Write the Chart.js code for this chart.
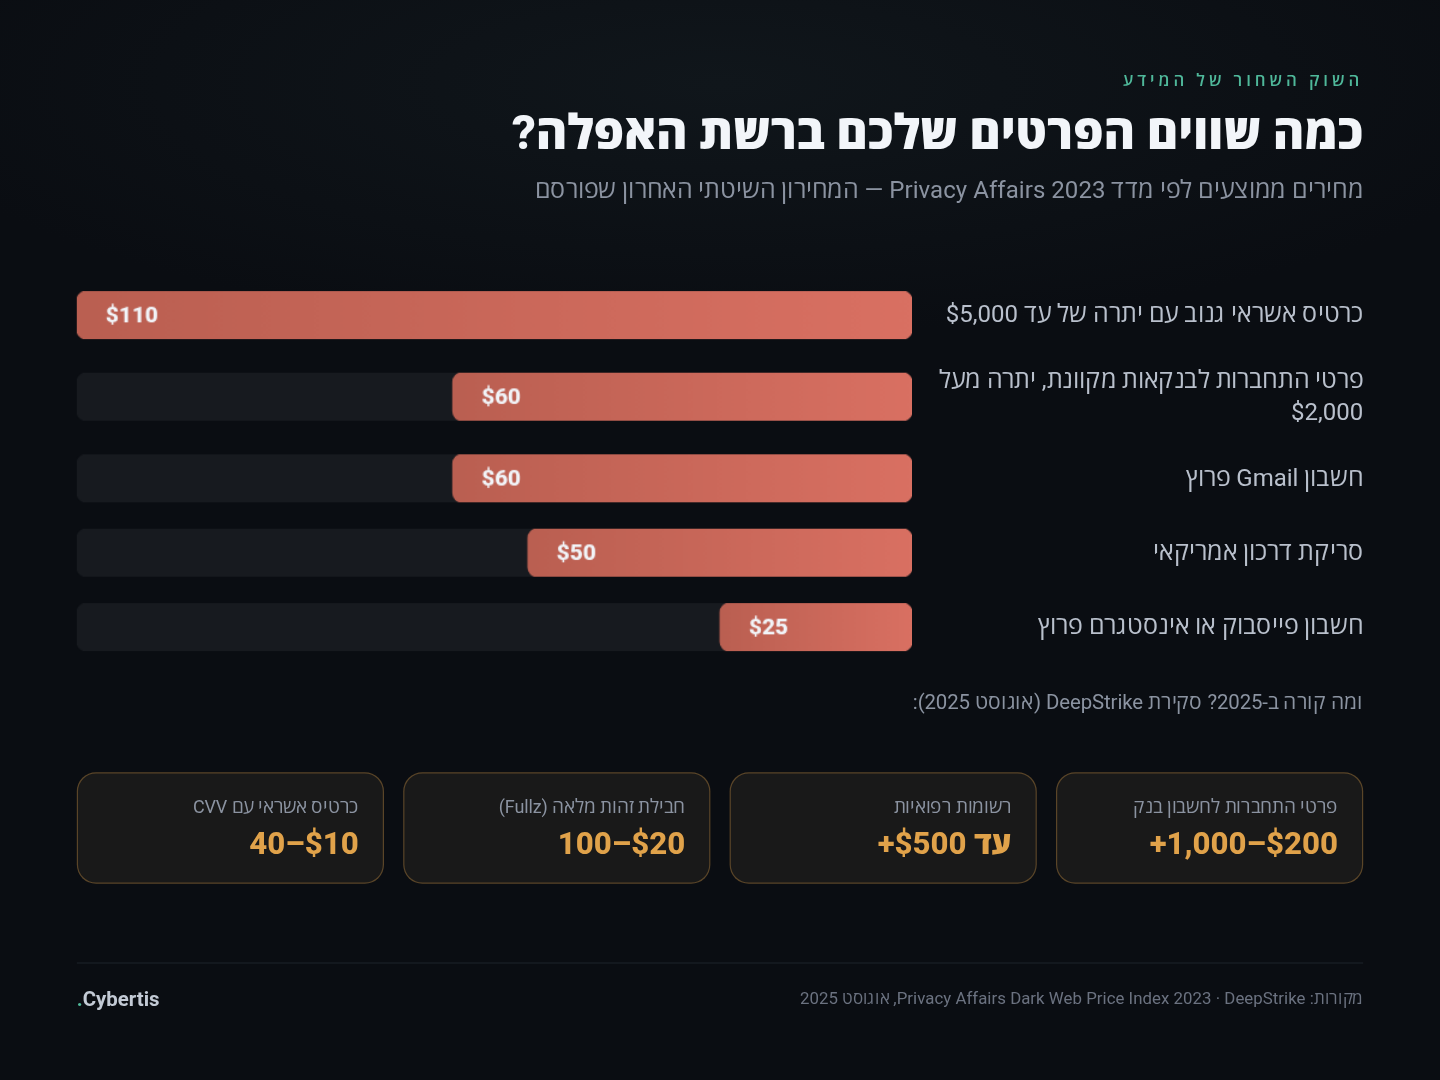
<!DOCTYPE html>
<html lang="he" dir="rtl">
<head>
<meta charset="utf-8">
<title>כמה שווים הפרטים שלכם ברשת האפלה?</title>
<script src="https://cdn.jsdelivr.net/npm/chart.js@4"></script>
<style>
  @font-face { font-family: HebrewText; src: local("Open Sans Regular"), local("OpenSans-Regular"), local("Open Sans"); unicode-range: U+0590-05FF; size-adjust: 103.5%; }
  * { box-sizing: border-box; margin: 0; padding: 0; }
  html, body { width: 1440px; height: 1080px; overflow: hidden; background: #0a0d12; }
  /* page is laid out at 1200x900 and scaled up, like the source */
  .page {
    position: absolute; top: 0; left: 0; width: 1200px; height: 900px;
    transform: scale(1.2); transform-origin: top left;
    filter: blur(.3px);
    background: radial-gradient(ellipse 700px 210px at 50% 70px, #10161b 0%, #0a0d12 100%);
    font-family: Roboto, "Open Sans", sans-serif;
  }
  .subtitle, .row-label, .note, .card-label, .source { font-family: HebrewText, Roboto, "Open Sans", sans-serif; }
  .eyebrow { position: absolute; top: 57.5px; right: 64px; font-size: 14px; line-height: 18px; font-weight: 600; letter-spacing: 3.3px; color: #4fb89a; }
  h1 { position: absolute; top: 84.5px; right: 64px; font-size: 40px; line-height: 52px; font-weight: 800; letter-spacing: -.15px; color: #f2f5f9; white-space: nowrap; }
  .subtitle { position: absolute; top: 144.5px; right: 64px; font-size: 20px; line-height: 26px; letter-spacing: .04px; color: #8b93a1; white-space: nowrap; }
  .rows { position: absolute; top: 243px; left: 64px; width: 1072px; display: flex; flex-direction: column; gap: 22px; transform: translateY(-.4px); }
  .row { display: flex; align-items: center; gap: 28px; }
  .row-label { flex: 1; margin-left: -8px; font-size: 20px; line-height: 26px; color: #b9c0cc; position: relative; top: -.8px; }
  .row canvas { width: 696px; height: 40px; display: block; flex: none; }
  .note { position: absolute; top: 574px; right: 64px; font-size: 17px; line-height: 22px; letter-spacing: -.1px; color: #8b93a1; }
  .cards { position: absolute; top: 644px; left: 64px; width: 1072px; height: 92.5px; display: flex; gap: 16px; transform: translateY(-.5px); }
  .card { flex: 1; background: #191919; border: 1px solid rgba(224, 162, 74, .33); border-radius: 16px; padding: 18px 20px; }
  .card-label { font-size: 15px; line-height: 20px; letter-spacing: -.1px; color: #8b93a1; }
  .card-value { font-size: 26px; line-height: 34px; font-weight: 800; color: #e0a24a; margin-top: 3px; }
  .footer { position: absolute; top: 801.5px; left: 64px; width: 1072px; border-top: 1px solid #1c2127; display: flex; justify-content: space-between; align-items: center; padding-top: 19px; }
  .source { font-size: 14px; line-height: 20px; letter-spacing: .03px; color: #6b7280; }
  .brand { font-size: 17px; line-height: 20px; font-weight: 700; color: #c3cad5; }
  .brand span { color: #4fb89a; }
</style>
</head>
<body>
<div class="page">
<div class="eyebrow">השוק השחור של המידע</div>
<h1>כמה שווים הפרטים שלכם ברשת האפלה?</h1>
<div class="subtitle">מחירים ממוצעים לפי מדד Privacy Affairs 2023 — המחירון השיטתי האחרון שפורסם</div>
<div class="rows" id="rows"></div>
<div class="note">ומה קורה ב-2025? סקירת DeepStrike (אוגוסט 2025):</div>
<div class="cards" id="cards"></div>
<div class="footer">
  <div class="source">מקורות: DeepStrike &rlm;·&rlm; Privacy Affairs Dark Web Price Index 2023, אוגוסט 2025</div>
  <div class="brand">Cybertis<span>.</span></div>
</div>
</div>
<script>
// --- DATA ---
const categories = [
  'כרטיס אשראי גנוב עם יתרה של עד $5,000',
  'פרטי התחברות לבנקאות מקוונת, יתרה מעל $2,000',
  'חשבון Gmail פרוץ',
  'סריקת דרכון אמריקאי',
  'חשבון פייסבוק או אינסטגרם פרוץ',
];
// bar length as % of the track, the way the picture draws it
const barLengths = [100, 55, 55, 46, 23];
const priceLabels = ['$110', '$60', '$60', '$50', '$25'];
const cardLabels = ['פרטי התחברות לחשבון בנק', 'רשומות רפואיות', 'חבילת זהות מלאה (Fullz)', 'כרטיס אשראי עם CVV'];
const cardValues = ['$200–1,000+', 'עד $500+', '$20–100', '$10–40'];

// --- CARDS ---
const cardsEl = document.getElementById('cards');
cardLabels.forEach((label, i) => {
  const card = document.createElement('div');
  card.className = 'card';
  card.innerHTML = `<div class="card-label">${label}</div><div class="card-value">${cardValues[i]}</div>`;
  cardsEl.appendChild(card);
});

// Price text sits inside the left end of the bar
const priceLabelPlugin = {
  id: 'priceLabel',
  afterDatasetsDraw(chart) {
    const bar = chart.getDatasetMeta(0).data[0];
    const { ctx } = chart;
    ctx.save();
    ctx.direction = 'ltr';
    ctx.font = '800 19px Roboto';
    ctx.fillStyle = '#f2f5f9';
    ctx.textAlign = 'left';
    ctx.textBaseline = 'middle';
    ctx.fillText(chart.data.labels[0], bar.x + 24, bar.y + 1);
    ctx.restore();
  },
};

function barGradient(context) {
  const { chart } = context;
  if (!chart.chartArea) return '#d97062';
  const xScale = chart.scales.x;
  const grad = chart.ctx.createLinearGradient(xScale.getPixelForValue(context.raw), 0, xScale.getPixelForValue(0), 0);
  grad.addColorStop(0, '#ba5f51');
  grad.addColorStop(1, '#d97062');
  return grad;
}

// --- ROWS ---
// one small chart per row: the two-line label makes the rows uneven in height
const rowsEl = document.getElementById('rows');
categories.forEach((category, i) => {
  const row = document.createElement('div');
  row.className = 'row';
  const label = document.createElement('div');
  label.className = 'row-label';
  label.textContent = category;
  const canvas = document.createElement('canvas');
  canvas.width = 696;
  canvas.height = 40;
  row.append(label, canvas);
  rowsEl.appendChild(row);

  new Chart(canvas, {
    type: 'bar',
    data: {
      labels: [priceLabels[i]],
      datasets: [
        { data: [barLengths[i]], backgroundColor: barGradient, borderRadius: 8, borderSkipped: false },
        { data: [100], backgroundColor: '#171a1f', borderRadius: 8, borderSkipped: false },
      ],
    },
    options: {
      indexAxis: 'y',
      responsive: false,
      animation: false,
      grouped: false,
      barPercentage: 1,
      categoryPercentage: 1,
      layout: { padding: 0 },
      plugins: { legend: { display: false }, tooltip: { enabled: false } },
      scales: {
        x: { display: false, min: 0, max: 100, reverse: true },
        y: { display: false },
      },
    },
    plugins: [priceLabelPlugin],
  });
});
</script>
</body>
</html>
